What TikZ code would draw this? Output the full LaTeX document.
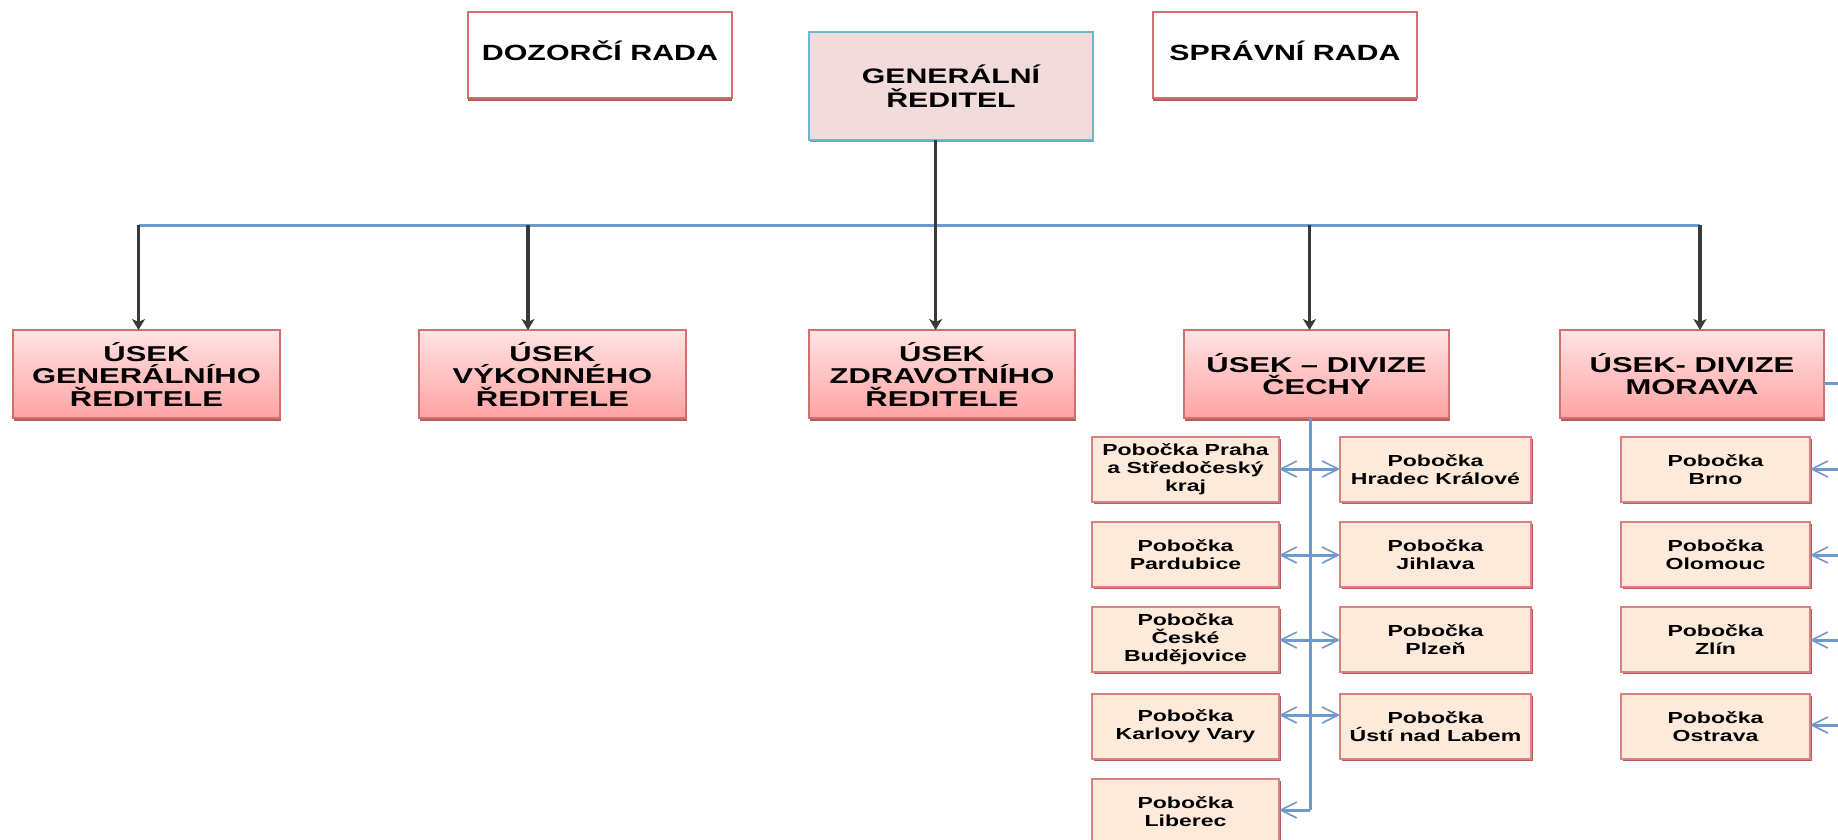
\documentclass[tikz,border=0pt]{standalone}
\usepackage{fontspec}
\newfontfamily\wfont{Liberation Sans Bold}[FakeStretch=1.44]
\newfontfamily\tfont{Liberation Sans Bold}[FakeStretch=1.38]
\usetikzlibrary{arrows.meta,shadows}
\definecolor{redline}{HTML}{D27070}
\definecolor{redshadow}{HTML}{B85C5C}
\definecolor{lowtop}{HTML}{FFE3E3}
\definecolor{lowbot}{HTML}{FFA3A3}
\definecolor{genfill}{HTML}{F2DCDB}
\definecolor{genline}{HTML}{6FB7CE}
\definecolor{genshadow}{HTML}{71A0AC}
\definecolor{pobfill}{HTML}{FDEADB}
\definecolor{pobline}{HTML}{D88383}
\definecolor{blueline}{RGB}{111,152,203}
\definecolor{blkline}{HTML}{3A3A3A}
\begin{document}
\begin{tikzpicture}[x=1pt,y=-1pt,
  topbox/.style={draw=redline, line width=1.5pt, fill=white,
    minimum width=264pt, minimum height=86pt, inner sep=0pt, outer sep=0pt,
    text depth=9pt,
    font=\tfont\fontsize{22}{24}\selectfont,
    drop shadow={shadow xshift=0pt, shadow yshift=-2.5pt, fill=redshadow, opacity=1}},
  genbox/.style={draw=genline, line width=1.8pt, fill=genfill,
    minimum width=284pt, minimum height=108pt, inner sep=0pt, outer sep=0pt,
    align=center, font=\wfont\fontsize{21}{24}\selectfont,
    drop shadow={shadow xshift=1pt, shadow yshift=-2pt, fill=genshadow, opacity=1}},
  lowbox/.style={draw=redline, line width=2pt, top color=lowtop, bottom color=lowbot,
    minimum width=267pt, minimum height=88pt, inner sep=0pt, outer sep=0pt,
    align=center, font=\wfont\fontsize{21.5}{22.5}\selectfont,
    drop shadow={shadow xshift=0.5pt, shadow yshift=-2.5pt, fill=redshadow, opacity=1}},
  pobbox/.style={draw=pobline, line width=1.8pt, fill=pobfill,
    minimum width=188pt, minimum height=65pt, inner sep=0pt, outer sep=0pt,
    align=center, font=\wfont\fontsize{16}{18}\selectfont,
    drop shadow={shadow xshift=1.5pt, shadow yshift=-1.5pt, fill=redshadow, opacity=1}},
  hline/.style={draw=blueline, line width=3pt},
  blk/.style={draw=blkline, line width=3.5pt, -{Stealth[length=11pt,width=13pt,inset=3pt]}},
  barrow/.style={draw=blueline, line width=3pt, -{Straight Barb[length=16pt,width=16pt,line width=1.6pt]}}
]
\useasboundingbox (0,0) rectangle (1838,839);
\fill[white] (0,0) rectangle (1838,839);

% top row
\node[topbox] (doz) at (600,55) {DOZORČÍ RADA};
\node[genbox] (gen) at (951,86) {GENERÁLNÍ\\ŘEDITEL};
\node[topbox] (spr) at (1285,55) {SPRÁVNÍ RADA};

% second row
\node[lowbox] (u1) at (146.5,374) {ÚSEK\\GENERÁLNÍHO\\ŘEDITELE};
\node[lowbox] (u2) at (552.5,374) {ÚSEK\\VÝKONNÉHO\\ŘEDITELE};
\node[lowbox, minimum width=266pt] (u3) at (942,374) {ÚSEK\\ZDRAVOTNÍHO\\ŘEDITELE};
\node[lowbox, minimum width=265pt] (u4) at (1316.5,374) {ÚSEK – DIVIZE\\ČECHY};
\node[lowbox, minimum width=264pt] (u5) at (1692,374) {ÚSEK- DIVIZE\\MORAVA};

% branches Cechy
\node[pobbox, minimum width=187pt] (p1) at (1185.5,469.5) {Pobočka Praha\\a Středočeský\\kraj};
\node[pobbox, minimum width=187pt] (p2) at (1185.5,554.5) {Pobočka\\Pardubice};
\node[pobbox, minimum width=187pt] (p3) at (1185.5,639.5) {Pobočka\\České\\Budějovice};
\node[pobbox, minimum width=187pt] (p4) at (1185.5,726.5) {Pobočka\\Karlovy Vary};
\node[pobbox, minimum width=187pt] (p5) at (1185.5,811.5) {Pobočka\\Liberec};
\node[pobbox, minimum width=191pt] (q1) at (1435.5,469.5) {Pobočka\\Hradec Králové};
\node[pobbox, minimum width=191pt] (q2) at (1435.5,554.5) {Pobočka\\Jihlava};
\node[pobbox, minimum width=191pt] (q3) at (1435.5,639.5) {Pobočka\\Plzeň};
\node[pobbox, minimum width=191pt] (q4) at (1435.5,726.5) {Pobočka\\Ústí nad Labem};
% branches Morava
\node[pobbox, minimum width=189pt] (m1) at (1715.5,469.5) {Pobočka\\Brno};
\node[pobbox, minimum width=189pt] (m2) at (1715.5,554.5) {Pobočka\\Olomouc};
\node[pobbox, minimum width=189pt] (m3) at (1715.5,639.5) {Pobočka\\Zlín};
\node[pobbox, minimum width=189pt] (m4) at (1715.5,726.5) {Pobočka\\Ostrava};

% main bus
\coordinate (h1) at (138.5,225);
\coordinate (h2) at (528,225);
\coordinate (h3) at (935.6,225);
\coordinate (h4) at (1309.5,225);
\coordinate (h5) at (1700,225);
\draw[hline] (h1) -- (h5);
\draw[blk] (h1) -- (h1 |- u1.north);
\draw[blk] (h2) -- (h2 |- u2.north);
\draw[blk] (gen.south -| h3) -- (h3 |- u3.north);
\draw[blk] (h4) -- (h4 |- u4.north);
\draw[blk] (h5) -- (h5 |- u5.north);

% Cechy tree
\coordinate (r1) at (1310,469);
\coordinate (r2) at (1310,555);
\coordinate (r3) at (1310,640);
\coordinate (r4) at (1310,715);
\coordinate (r5) at (1310,810);
\draw[hline] (u4.south -| r1) -- (r5);
\draw[barrow] (r1) -- (r1 -| p1.east);
\draw[barrow] (r1) -- (r1 -| q1.west);
\draw[barrow] (r2) -- (r2 -| p2.east);
\draw[barrow] (r2) -- (r2 -| q2.west);
\draw[barrow] (r3) -- (r3 -| p3.east);
\draw[barrow] (r3) -- (r3 -| q3.west);
\draw[barrow] (r4) -- (r4 -| p4.east);
\draw[barrow] (r4) -- (r4 -| q4.west);
\draw[barrow] (r5) -- (r5 -| p5.east);

% Morava tree (trunk lies beyond the right edge)
\coordinate (mv) at (1852,383);
\coordinate (s1) at (1852,469);
\coordinate (s2) at (1852,555);
\coordinate (s3) at (1852,640);
\coordinate (s4) at (1852,725);
\draw[hline] (u5.east |- mv) -- (mv) -- (s4);
\draw[barrow] (s1) -- (s1 -| m1.east);
\draw[barrow] (s2) -- (s2 -| m2.east);
\draw[barrow] (s3) -- (s3 -| m3.east);
\draw[barrow] (s4) -- (s4 -| m4.east);
\end{tikzpicture}
\end{document}
